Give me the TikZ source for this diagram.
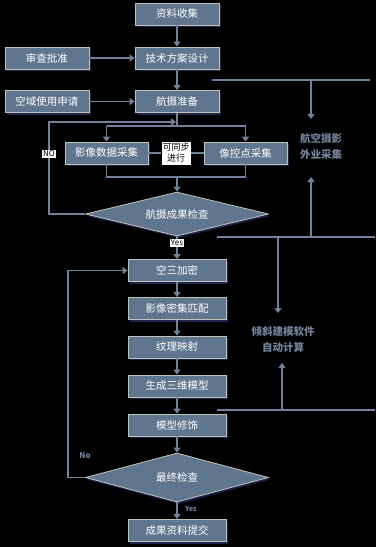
\documentclass[tikz,border=0pt]{standalone}
\usepackage{fontspec}
\setmainfont{Noto Sans CJK SC}
\usepackage{tikz}
\usetikzlibrary{arrows.meta,shapes.geometric,shadows}
\definecolor{flowbg}{HTML}{000000}
\definecolor{flowbox}{HTML}{60768F}
\definecolor{flowedge}{HTML}{BFC4B4}
\definecolor{flowline}{HTML}{71839A}
\definecolor{flowshade}{HTML}{1E2350}

\tikzset{
  box/.style={draw=flowedge,line width=0.8pt,fill=flowbox,text=white,
    minimum height=22pt,inner sep=1pt,font=\fontsize{10.5}{11}\selectfont,
    drop shadow={shadow xshift=1.5pt,shadow yshift=-2pt,fill=flowshade,opacity=1}},
  check/.style={diamond,draw=flowedge,line width=0.8pt,fill=flowbox,text=white,
    inner sep=0pt,minimum width=183pt,font=\fontsize{10.5}{11}\selectfont,
    drop shadow={shadow xshift=1.5pt,shadow yshift=-2pt,fill=flowshade,opacity=1}},
  link/.style={flowline,line width=1.6pt},
  arr/.style={link,-{Triangle[width=7pt,length=5pt]}},
  tag/.style={fill=white,text=black,inner sep=1pt,font=\fontsize{8}{9}\selectfont},
  note/.style={text=flowline,font=\bfseries\fontsize{10.5}{16}\selectfont,align=center}
}

\begin{document}
\begin{tikzpicture}[x=1pt,y=-1pt]
  \fill[flowbg] (0,0) rectangle (376,547);
  \useasboundingbox (0,0) rectangle (376,547);

  % field work
  \node[box,minimum width=84pt] (collect) at (177,14) {资料收集};
  \node[box,minimum width=84pt] (design) at (177,58) {技术方案设计};
  \node[box,minimum width=84pt] (approve) at (47,58) {审查批准};
  \node[box,minimum width=84pt] (prep) at (177,101.5) {航摄准备};
  \node[box,minimum width=84pt] (airspace) at (47,101.5) {空域使用申请};
  \node[box,minimum width=83pt] (imgdata) at (106.5,153) {影像数据采集};
  \node[box,minimum width=83pt] (gcp) at (245.5,153) {像控点采集};
  \node[tag,align=center,font=\fontsize{9}{11}\selectfont,minimum width=28pt,minimum height=23pt] (sync) at (176,153) {可同步\\进行};
  \node[check,aspect=4.16,minimum height=44pt] (check1) at (177,214) {航摄成果检查};

  % office processing
  \node[box,minimum width=98pt] (aero3) at (177,270.5) {空三加密};
  \node[box,minimum width=98pt] (match) at (177,308.5) {影像密集匹配};
  \node[box,minimum width=98pt] (texture) at (177,347) {纹理映射};
  \node[box,minimum width=98pt] (model) at (177,386) {生成三维模型};
  \node[box,minimum width=98pt] (trim) at (177,425) {模型修饰};
  \node[check,aspect=3.73,minimum height=49pt] (check2) at (177,477.5) {最终检查};
  \node[box,minimum width=98pt] (submit) at (177,530.5) {成果资料提交};

  \coordinate (split) at (177,126);
  \coordinate (splitL) at (106.5,126);
  \coordinate (splitR) at (245.5,126);
  \coordinate (join) at (177,177);
  \coordinate (loop1) at (49,122);
  \coordinate (loop1end) at (176,122);
  \coordinate (loop2) at (68,270.5);

  \draw[arr] (collect) -- (design);
  \draw[arr] (approve) -- (design);
  \draw[arr] (design) -- (prep);
  \draw[arr] (airspace) -- (prep);
  \draw[link] (prep) -- (split);
  \draw[link] (splitL) -- (splitR);
  \draw[arr] (splitL) -- (imgdata);
  \draw[arr] (splitR) -- (gcp);
  \draw[link] (imgdata) -- (sync) -- (gcp);
  \draw[link] (imgdata.south) |- (join) -| (gcp.south);
  \draw[arr] (join) -- (check1.north);
  \draw[arr] (check1.west) -| (loop1) -- (loop1end);
  \node[tag] (no1) at (49,154) {NO};
  \draw[arr] (check1.south) -- (aero3);
  \node[tag] (yes1) at (177,243) {Yes};

  \draw[arr] (aero3) -- (match);
  \draw[arr] (match) -- (texture);
  \draw[arr] (texture) -- (model);
  \draw[arr] (model) -- (trim);
  \draw[arr] (trim) -- (check2.north);
  \draw[arr] (check2.south) -- (submit);
  \node[text=flowline,font=\bfseries\fontsize{7}{8}\selectfont] (yes2) at (191,509) {Yes};
  \draw[arr] (check2.west) -| (loop2) -- (aero3.west);
  \node[text=flowline,font=\bfseries\fontsize{8}{9}\selectfont] (no2) at (85,456) {No};

  % side notes
  \node[note] (field) at (321,146) {航空摄影\\外业采集};
  \node[note] (office) at (283,339) {倾斜建模软件\\自动计算};
  \coordinate (bar1L) at (212,80);
  \coordinate (bar1R) at (370,80);
  \coordinate (bar2L) at (217,237);
  \coordinate (bar2R) at (375,237);
  \coordinate (bar3L) at (217,410);
  \coordinate (bar3R) at (375,410);
  \draw[link] (bar1L) -- (bar1R);
  \draw[link] (bar2L) -- (bar2R);
  \draw[link] (bar3L) -- (bar3R);
  \draw[arr] (311,80) -- (311,119);
  \draw[arr] (311,237) -- (311,177);
  \draw[arr] (278,237) -- (278,313);
  \draw[arr] (282,410) -- (282,363);
\end{tikzpicture}
\end{document}
